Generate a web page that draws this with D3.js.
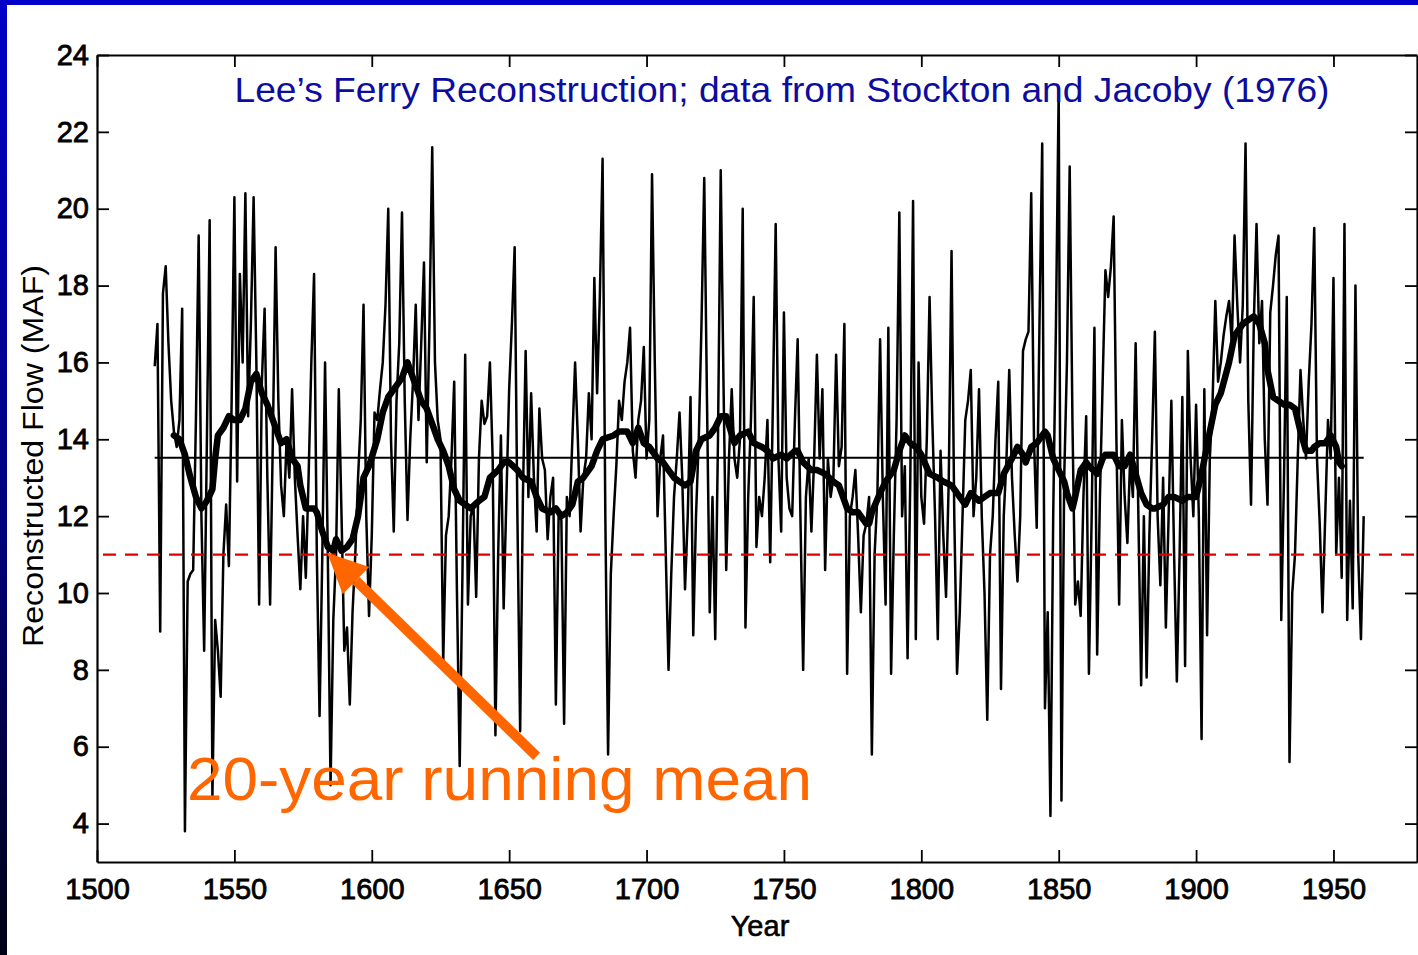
<!DOCTYPE html>
<html>
<head>
<meta charset="utf-8">
<script src="https://cdn.jsdelivr.net/npm/d3@7"></script>
<style>
  html, body { margin: 0; padding: 0; background: #fff; }
  svg { display: block; }
  text { font-family: "Liberation Sans", Arial, Helvetica, sans-serif; }
</style>
</head>
<body>
<svg id="chart" width="1418" height="955"></svg>
<script>
// ---------------- data ----------------
const startYear = 1521;
// annual reconstructed flow (MAF), 1521 ... 1961
const flow = [
  15.9,17.0,9.0,17.8,18.5,16.5,15.0,14.2,13.8,14.5,
  17.4,3.8,10.3,10.5,10.6,14.5,19.3,12.0,8.5,14.0,
  19.7,4.7,9.3,8.5,7.3,11.0,12.3,10.7,15.0,20.3,
  12.9,18.3,16.0,20.4,14.6,17.0,20.3,16.0,9.7,15.5,
  17.4,13.0,9.7,14.0,19.0,15.0,12.8,12.0,14.0,13.0,
  15.3,13.0,11.5,10.1,12.0,10.4,13.0,16.0,18.3,11.0,
  6.8,11.0,16.0,11.0,5.0,9.3,11.0,15.3,12.0,8.5,
  9.1,7.1,9.5,11.0,13.0,14.5,17.5,12.0,9.4,11.5,
  14.7,14.5,15.3,16.0,17.5,20.0,14.0,11.6,15.0,16.5,
  19.9,15.0,11.9,14.0,15.5,17.5,14.5,16.5,18.6,13.4,
  17.0,21.6,16.0,14.5,14.0,8.2,11.5,12.0,13.5,15.5,
  10.0,5.5,10.5,16.2,9.7,12.0,12.3,9.9,13.5,15.0,
  14.4,14.6,16.0,13.5,6.3,11.0,14.1,9.6,12.5,15.3,
  17.0,19.0,12.0,6.4,12.5,16.3,12.5,15.2,13.0,11.6,
  14.8,13.5,13.2,11.4,12.5,13.0,7.1,12.0,11.9,6.6,
  12.5,12.0,14.0,16.0,14.0,11.6,13.0,13.5,15.2,14.0,
  18.2,15.2,17.7,21.3,12.0,5.8,10.5,12.0,13.3,15.0,
  14.5,15.5,16.0,16.9,13.7,13.0,14.5,15.0,16.4,13.5,
  14.5,20.9,16.0,12.0,13.5,14.1,11.0,8.0,10.5,12.5,
  13.5,14.7,13.0,10.1,12.0,15.1,8.9,12.0,14.0,17.0,
  20.8,15.0,9.5,12.5,8.8,14.0,21.0,15.5,10.6,13.5,
  15.3,13.5,13.0,14.0,20.0,9.1,12.5,14.5,17.7,11.2,
  12.5,12.0,13.0,14.5,10.8,15.0,19.6,13.5,11.6,17.3,
  13.0,12.2,12.0,14.5,16.6,12.0,8.0,12.5,13.5,11.6,
  13.5,16.2,13.5,15.3,10.6,13.5,12.5,13.0,16.2,13.3,
  13.8,17.0,7.9,12.0,12.5,13.2,11.5,9.5,11.5,11.8,
  12.5,5.8,11.0,12.5,16.6,12.5,9.7,16.9,7.9,11.5,
  14.5,19.9,12.0,13.3,8.3,13.0,20.2,8.8,16.0,12.5,
  11.8,14.0,17.7,14.5,12.0,8.8,13.7,11.5,9.9,13.0,
  18.9,12.0,7.9,9.5,12.0,14.5,15.0,15.8,12.0,13.0,
  15.3,12.0,10.0,6.7,11.0,12.0,14.0,15.5,7.5,12.0,
  13.5,15.8,13.0,11.5,10.3,12.0,16.3,16.6,16.8,20.4,
  14.0,11.7,17.0,21.7,7.0,9.5,4.2,12.0,17.0,23.1,
  4.6,13.0,16.0,21.1,14.5,9.7,10.3,9.4,12.5,14.6,
  7.9,12.0,16.9,8.4,12.5,15.5,18.4,17.7,18.5,19.8,
  14.0,9.7,14.5,12.5,11.3,13.5,12.5,16.5,12.0,7.6,
  12.0,7.8,11.5,14.0,16.8,12.0,10.2,13.0,9.1,12.0,
  15.0,11.0,7.7,11.0,15.1,8.1,16.3,13.5,12.0,14.9,
  12.0,6.2,15.3,8.9,13.5,15.0,17.6,15.5,16.0,16.7,
  17.2,17.6,16.5,19.3,17.5,16.0,17.5,21.7,15.0,12.3,
  17.0,19.6,16.5,17.6,14.0,12.3,17.3,18.0,18.8,19.3,
  9.3,13.0,17.7,5.6,10.0,11.0,13.5,15.8,14.5,13.5,
  15.5,17.0,19.5,13.5,11.8,9.5,12.0,14.5,13.5,18.2,
  11.0,13.0,10.4,19.6,9.3,12.4,9.6,18.0,11.0,8.8,12.0
];

// 20-year running mean
const meanYears = [
  1528,1530,1532,1534,1536,1538,1540,1542,1543,1544,1546,1548,1550,1552,1554,1556,1558,1560,1562,1565,
  1567,1569,1571,1573,1574,1576,1579,1580,1582,1584,1586,1587,1589,1591,1593,1595,1597,1599,1602,1604,
  1606,1608,1611,1613,1614,1616,1618,1620,1622,1624,1626,1628,1630,1632,1634,1636,1639,1641,1643,1646,
  1648,1650,1653,1655,1658,1660,1662,1665,1667,1669,1671,1673,1675,1677,1680,1682,1684,1688,1690,1693,
  1695,1697,1699,1701,1704,1706,1708,1710,1712,1714,1716,1718,1720,1723,1725,1727,1729,1732,1734,1737,
  1739,1742,1744,1746,1749,1751,1754,1755,1757,1760,1762,1765,1768,1770,1773,1775,1777,1780,1781,1782,
  1785,1787,1790,1792,1794,1796,1798,1800,1803,1806,1808,1811,1813,1816,1818,1821,1823,1825,1828,1830,
  1833,1835,1837,1838,1840,1842,1845,1846,1848,1850,1852,1853,1855,1856,1858,1860,1861,1864,1866,1867,
  1870,1872,1874,1876,1878,1880,1882,1884,1885,1888,1890,1892,1895,1897,1900,1902,1905,1907,1909,1912,
  1914,1917,1919,1921,1923,1925,1926,1928,1930,1932,1934,1936,1938,1940,1942,1943,1945,1947,1949,1951,
  1952,1953
];
const meanValues = [
  14.1,14.0,13.6,13.0,12.5,12.2,12.4,12.7,13.5,14.1,14.3,14.6,14.5,14.5,14.8,15.5,15.7,15.2,14.9,14.3,
  13.9,14.0,13.5,13.3,12.8,12.2,12.2,12.1,11.6,11.2,11.1,11.4,11.1,11.2,11.4,12.0,13.0,13.3,14.0,14.7,
  15.1,15.3,15.6,16.0,15.8,15.4,15.0,14.8,14.4,14.0,13.7,13.3,12.7,12.4,12.3,12.2,12.4,12.5,13.0,13.2,
  13.4,13.4,13.2,13.0,12.9,12.5,12.2,12.1,12.2,12.0,12.1,12.3,12.9,13.0,13.3,13.7,14.0,14.1,14.2,14.2,
  13.9,14.3,13.9,13.8,13.5,13.4,13.2,13.0,12.9,12.8,12.9,13.7,14.0,14.1,14.3,14.6,14.6,13.9,14.1,14.2,
  13.9,13.8,13.7,13.5,13.6,13.5,13.7,13.7,13.4,13.2,13.2,13.1,12.9,12.8,12.2,12.1,12.1,11.8,11.8,12.1,
  12.6,12.9,13.2,13.7,14.1,13.9,13.8,13.6,13.1,13.0,12.9,12.8,12.6,12.3,12.6,12.4,12.5,12.6,12.6,13.1,
  13.5,13.8,13.6,13.4,13.8,13.9,14.2,14.1,13.5,13.2,12.9,12.6,12.2,12.5,13.2,13.4,13.3,13.1,13.5,13.6,
  13.6,13.3,13.3,13.6,13.1,12.6,12.3,12.2,12.2,12.3,12.5,12.5,12.4,12.5,12.5,13.1,14.2,14.9,15.2,16.0,
  16.7,17.0,17.1,17.2,17.0,16.5,15.8,15.1,15.0,14.9,14.9,14.8,14.2,13.7,13.7,13.8,13.9,13.9,14.1,13.8,
  13.4,13.3
];

const longTermMean = 13.52;       // thin horizontal line
const threshold = 11;             // red dashed line
const yTicks = [4, 6, 8, 10, 12, 14, 16, 18, 20, 22, 24];
const xTicks = [1500, 1550, 1600, 1650, 1700, 1750, 1800, 1850, 1900, 1950];
const titleText = "Lee\u2019s Ferry Reconstruction; data from Stockton and Jacoby (1976)";
const xLabel = "Year";
const yLabel = "Reconstructed Flow (MAF)";
const noteText = "20-year running mean";
const arrowFrom = [1660, 5.75];
const arrowTo = [1583.8, 11.05];

// ---------------- drawing ----------------
const W = 1418, H = 955;
const svg = d3.select("#chart");

const defs = svg.append("defs");
const grad = defs.append("linearGradient").attr("id", "leftBand")
  .attr("x1", 0).attr("y1", 0).attr("x2", 0).attr("y2", 1);
grad.append("stop").attr("offset", "0%").attr("stop-color", "#0000c8");
grad.append("stop").attr("offset", "55%").attr("stop-color", "#00007a");
grad.append("stop").attr("offset", "100%").attr("stop-color", "#000014");

svg.append("rect").attr("width", W).attr("height", H).attr("fill", "#fff");
svg.append("rect").attr("x", 0).attr("y", 0).attr("width", W).attr("height", 5).attr("fill", "#0000c8");
svg.append("rect").attr("x", 0).attr("y", 0).attr("width", 7).attr("height", H).attr("fill", "url(#leftBand)");

const x = d3.scaleLinear().domain([1500, 1980.4]).range([97, 1417]);
const y = d3.scaleLinear().domain([3, 24]).range([862, 55]);

const axisFont = 29;

// left axis
const gL = svg.append("g").attr("transform", `translate(${x.range()[0]},0)`)
  .call(d3.axisLeft(y).tickValues(yTicks).tickSizeInner(-12).tickSizeOuter(0).tickPadding(8).tickFormat(d3.format("d")));
// bottom axis
const gB = svg.append("g").attr("transform", `translate(0,${y.range()[0]})`)
  .call(d3.axisBottom(x).tickValues(xTicks).tickSizeInner(-12).tickSizeOuter(0).tickPadding(16).tickFormat(d3.format("d")));
// top axis (ticks only)
const gT = svg.append("g").attr("transform", `translate(0,${y.range()[1]})`)
  .call(d3.axisTop(x).tickValues(xTicks).tickSizeInner(-12).tickSizeOuter(0).tickFormat(""));
// right axis (ticks only)
const gR = svg.append("g").attr("transform", `translate(${x.range()[1]},0)`)
  .call(d3.axisRight(y).tickValues(yTicks).tickSizeInner(-12).tickSizeOuter(0).tickFormat(""));

[gL, gB, gT, gR].forEach(g => {
  g.select(".domain").attr("stroke", "#000").attr("stroke-width", 2.2);
  g.selectAll(".tick line").attr("stroke", "#000").attr("stroke-width", 1.8);
  g.selectAll(".tick text").attr("fill", "#000").style("font-size", axisFont + "px")
    .attr("stroke", "#000").attr("stroke-width", 0.8)
    .style("font-family", "'Liberation Sans', Arial, sans-serif");
});

// annual series
const annual = flow.map((v, i) => ({ year: startYear + i, v }));
const line = d3.line().x(d => x(d.year)).y(d => y(d.v));
svg.append("path").datum(annual).attr("d", line)
  .attr("fill", "none").attr("stroke", "#000").attr("stroke-width", 2.5)
  .attr("stroke-linejoin", "round");

// long-term mean
svg.append("line")
  .attr("x1", x(startYear)).attr("x2", x(startYear + flow.length - 1))
  .attr("y1", y(longTermMean)).attr("y2", y(longTermMean))
  .attr("stroke", "#000").attr("stroke-width", 2.2);

// running mean
const rm = meanYears.map((yr, i) => ({ year: yr, v: meanValues[i] }));
svg.append("path").datum(rm).attr("d", line)
  .attr("fill", "none").attr("stroke", "#000").attr("stroke-width", 6.5)
  .attr("stroke-linejoin", "round").attr("stroke-linecap", "round");

// threshold
svg.append("line")
  .attr("x1", 103).attr("x2", W)
  .attr("y1", y(threshold)).attr("y2", y(threshold))
  .attr("stroke", "#e00000").attr("stroke-width", 2.2)
  .attr("stroke-dasharray", "13,9");

// title
svg.append("text").attr("x", 782).attr("y", 102)
  .attr("text-anchor", "middle").attr("fill", "#0c0c9e")
  .attr("textLength", 1095).attr("lengthAdjust", "spacingAndGlyphs")
  .style("font-size", "35px").text(titleText);

// axis titles
svg.append("text").attr("x", 760).attr("y", 936).attr("text-anchor", "middle")
  .attr("fill", "#000").attr("stroke", "#000").attr("stroke-width", 0.6)
  .style("font-size", "29px").text(xLabel);
svg.append("text").attr("transform", "translate(43,456) rotate(-90)")
  .attr("text-anchor", "middle").attr("fill", "#000")
  .attr("textLength", 382).attr("lengthAdjust", "spacingAndGlyphs")
  .style("font-size", "29px").text(yLabel);

// annotation arrow
const ax0 = x(arrowFrom[0]), ay0 = y(arrowFrom[1]);
const ax1 = x(arrowTo[0]), ay1 = y(arrowTo[1]);
const ang = Math.atan2(ay1 - ay0, ax1 - ax0);
const headLen = 40, headHalf = 19;
const bx = ax1 - headLen * Math.cos(ang), by = ay1 - headLen * Math.sin(ang);
svg.append("line").attr("x1", ax0).attr("y1", ay0).attr("x2", bx).attr("y2", by)
  .attr("stroke", "#ff6600").attr("stroke-width", 10);
svg.append("path")
  .attr("d", `M${ax1},${ay1} L${bx + headHalf * Math.sin(ang)},${by - headHalf * Math.cos(ang)} L${bx - headHalf * Math.sin(ang)},${by + headHalf * Math.cos(ang)} Z`)
  .attr("fill", "#ff6600");

svg.append("text").attr("x", 187).attr("y", 800)
  .attr("fill", "#ff6600").attr("textLength", 625).attr("lengthAdjust", "spacingAndGlyphs")
  .style("font-size", "62px").text(noteText);
</script>
</body>
</html>
